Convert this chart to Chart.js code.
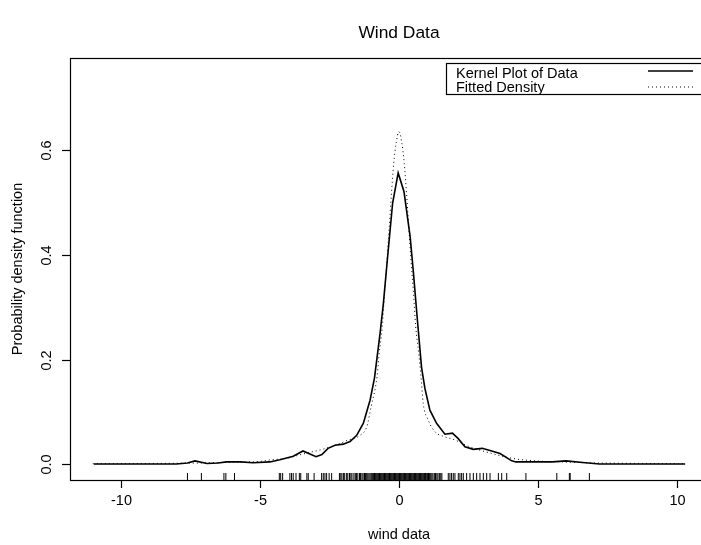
<!DOCTYPE html>
<html>
<head>
<meta charset="utf-8">
<script src="https://cdn.jsdelivr.net/npm/chart.js@4"></script>
<style>
  html, body { margin: 0; padding: 0; background: #fff; overflow: hidden; }
  #wrap { width: 701px; height: 545px; overflow: hidden; }
</style>
</head>
<body>
<div id="wrap"><canvas id="windChart" width="740" height="545"></canvas></div>
<script>
// kernel density estimate of the wind data (solid line)
const kernelX = [-10.96, -9, -8, -7.6, -7.33, -6.9, -6.5, -6.2, -5.7, -5.24, -4.64, -4.28, -3.8, -3.45,
  -3.2, -2.98, -2.77, -2.55, -2.3, -2.0, -1.76, -1.52, -1.28, -1.04, -0.88, -0.68, -0.56, -0.42, -0.23,
  -0.03, 0.18, 0.4, 0.51, 0.66, 0.81, 0.93, 1.11, 1.35, 1.65, 1.92, 2.12, 2.37, 2.67, 2.99, 3.33, 3.63,
  4.05, 4.2, 4.65, 5.5, 6.0, 6.6, 7.2, 8.5, 10.28];
const kernelY = [0, 0, 0, 0.002, 0.006, 0.001, 0.002, 0.004, 0.004, 0.0025, 0.004, 0.008, 0.015, 0.025,
  0.019, 0.014, 0.018, 0.030, 0.036, 0.038, 0.043, 0.055, 0.078, 0.122, 0.165, 0.25, 0.308, 0.39, 0.499,
  0.557, 0.521, 0.435, 0.371, 0.276, 0.185, 0.145, 0.103, 0.078, 0.057, 0.059, 0.049, 0.033, 0.028, 0.030,
  0.025, 0.020, 0.006, 0.004, 0.004, 0.004, 0.006, 0.003, 0, 0, 0];

// fitted density (dotted line)
const fitX = [-11, -10, -9, -8, -7, -6, -5, -4.6, -4, -3.67, -3.3, -2.83, -2.4, -2.0, -1.82, -1.6, -1.4,
  -1.16, -1.0, -0.79, -0.71, -0.60, -0.52, -0.43, -0.35, -0.27, -0.19, -0.1, 0, 0.1, 0.19, 0.27, 0.35,
  0.43, 0.52, 0.60, 0.71, 0.79, 0.87, 1.05, 1.29, 1.65, 2.01, 2.49, 3.21, 4.05, 4.89, 5.85, 7, 8, 9, 10.3];
const fitY = [0.0005, 0.0008, 0.001, 0.0015, 0.002, 0.0035, 0.005, 0.008, 0.011, 0.016, 0.021, 0.027,
  0.034, 0.042, 0.046, 0.049, 0.055, 0.071, 0.11, 0.167, 0.212, 0.263, 0.327, 0.39, 0.454, 0.518, 0.575,
  0.615, 0.636, 0.615, 0.575, 0.518, 0.454, 0.39, 0.327, 0.263, 0.212, 0.167, 0.116, 0.084, 0.062, 0.052,
  0.046, 0.034, 0.022, 0.011, 0.006, 0.004, 0.002, 0.0015, 0.001, 0.0005];

// observations shown as a rug under the curves
const rugX = [-7.6, -7.1, -6.29, -6.22, -5.91, -4.30, -4.25, -4.18, -3.92, -3.86, -3.80, -3.70, -3.58,
  -3.53, -3.31, -3.26, -3.05, -2.78, -2.72, -2.66, -2.60, -2.51, -2.42, -2.14, -2.09, -2.05, -1.99, -1.95,
  -1.88, -1.84, -1.78, -1.73, -1.69, -1.62, -1.57, -1.53, -1.48, -1.42, -1.38, -1.33, -1.29, -1.24, -1.2,
  -1.16, -1.12, -1.08, -1.04, -1.0, -0.97, -0.94, -0.91, -0.88, -0.85, -0.82, -0.79, -0.76, -0.73, -0.7,
  -0.67, -0.64, -0.61, -0.58, -0.55, -0.52, -0.49, -0.46, -0.43, -0.4, -0.37, -0.34, -0.31, -0.28, -0.25,
  -0.22, -0.19, -0.16, -0.13, -0.1, -0.07, -0.04, -0.01, 0.02, 0.05, 0.08, 0.11, 0.14, 0.17, 0.2, 0.23,
  0.26, 0.29, 0.32, 0.35, 0.38, 0.41, 0.44, 0.47, 0.5, 0.53, 0.56, 0.59, 0.62, 0.65, 0.68, 0.71, 0.74,
  0.77, 0.8, 0.83, 0.86, 0.89, 0.92, 0.95, 0.98, 1.02, 1.06, 1.1, 1.14, 1.18, 1.22, 1.27, 1.31, 1.36,
  1.4, 1.45, 1.5, 1.54, 1.77, 1.83, 1.89, 1.95, 2.01, 2.13, 2.19, 2.25, 2.31, 2.43, 2.55, 2.67, 2.79,
  2.91, 3.03, 3.15, 3.27, 3.57, 3.69, 3.87, 4.56, 5.67, 6.12, 6.15, 6.84];

const xTicks = [-10, -5, 0, 5, 10];
const yTicks = [0, 0.2, 0.4, 0.6];
const legendLabels = ['Kernel Plot of Data', 'Fitted Density'];

const FONT = '"Liberation Sans", Arial, Helvetica, sans-serif';
const RUG_LEVEL = -0.0239;

function toPoints(xs, ys) {
  return xs.map((x, i) => ({ x: x, y: ys[i] }));
}

// R-style frame, ticks, labels and legend
const rFrame = {
  id: 'rFrame',
  afterDraw(chart) {
    const ctx = chart.ctx;
    const area = chart.chartArea;
    const xs = chart.scales.x;
    const ys = chart.scales.y;
    ctx.save();
    ctx.strokeStyle = '#000';
    ctx.fillStyle = '#000';
    ctx.lineWidth = 1.2;

    // box
    ctx.strokeRect(area.left + 0.5, area.top + 0.5, area.right - area.left, area.bottom - area.top);

    ctx.font = '14.5px ' + FONT;
    ctx.textAlign = 'center';
    ctx.textBaseline = 'middle';

    xTicks.forEach(v => {
      const px = Math.round(xs.getPixelForValue(v)) + 0.5;
      ctx.beginPath();
      ctx.moveTo(px, area.bottom);
      ctx.lineTo(px, area.bottom + 8);
      ctx.stroke();
      ctx.fillText(String(v), px, area.bottom + 21);
    });

    yTicks.forEach(v => {
      const py = Math.round(ys.getPixelForValue(v)) + 0.5;
      ctx.beginPath();
      ctx.moveTo(area.left - 8, py);
      ctx.lineTo(area.left, py);
      ctx.stroke();
      ctx.save();
      ctx.translate(area.left - 23, py);
      ctx.rotate(-Math.PI / 2);
      ctx.fillText(v.toFixed(1), 0, 0);
      ctx.restore();
    });

    const cx = (area.left + area.right) / 2;
    ctx.fillText('wind data', cx, area.bottom + 55);
    ctx.save();
    ctx.translate(18, (area.top + area.bottom) / 2);
    ctx.rotate(-Math.PI / 2);
    ctx.fillText('Probability density function', 0, 0);
    ctx.restore();

    ctx.font = '17.4px ' + FONT;
    ctx.fillText('Wind Data', cx, 33);

    // legend box in the top right corner
    const lx = area.right - 282;
    const ly = area.top + 5;
    ctx.fillStyle = '#fff';
    ctx.fillRect(lx, ly, 282, 31);
    ctx.lineWidth = 1.2;
    ctx.strokeRect(lx + 0.5, ly + 0.5, 282, 31);
    ctx.fillStyle = '#000';
    ctx.font = '14.5px ' + FONT;
    ctx.textAlign = 'left';
    ctx.textBaseline = 'alphabetic';
    ctx.fillText(legendLabels[0], lx + 10, ly + 15);
    ctx.fillText(legendLabels[1], lx + 10, ly + 29);

    ctx.lineWidth = 1.6;
    ctx.beginPath();
    ctx.moveTo(area.right - 80, ly + 8);
    ctx.lineTo(area.right - 35, ly + 8);
    ctx.stroke();
    ctx.lineWidth = 1;
    ctx.setLineDash([1, 3]);
    ctx.beginPath();
    ctx.moveTo(area.right - 80, ly + 24);
    ctx.lineTo(area.right - 35, ly + 24);
    ctx.stroke();
    ctx.restore();
  }
};

new Chart(document.getElementById('windChart').getContext('2d'), {
  type: 'line',
  data: {
    datasets: [
      {
        label: legendLabels[0],
        data: toPoints(kernelX, kernelY),
        borderColor: '#000',
        borderWidth: 1.6,
        pointRadius: 0,
        tension: 0,
        fill: false,
      },
      {
        label: legendLabels[1],
        data: toPoints(fitX, fitY),
        borderColor: '#000',
        borderWidth: 1,
        borderDash: [1, 3],
        pointRadius: 0,
        cubicInterpolationMode: 'monotone',
        fill: false,
      },
      {
        type: 'scatter',
        label: 'rug',
        data: rugX.map(x => ({ x: x, y: RUG_LEVEL })),
        pointStyle: 'line',
        rotation: 90,
        radius: 3.5,
        borderColor: '#000',
        borderWidth: 1,
        showLine: false,
      },
    ],
  },
  options: {
    responsive: false,
    animation: false,
    layout: { padding: { left: 70, top: 58, right: 12, bottom: 65 } },
    scales: {
      x: { type: 'linear', min: -11.82, max: 11.82, display: false },
      y: { type: 'linear', min: -0.0306, max: 0.777, display: false },
    },
    plugins: {
      legend: { display: false },
      tooltip: { enabled: false },
    },
  },
  plugins: [rFrame],
});
</script>
</body>
</html>
